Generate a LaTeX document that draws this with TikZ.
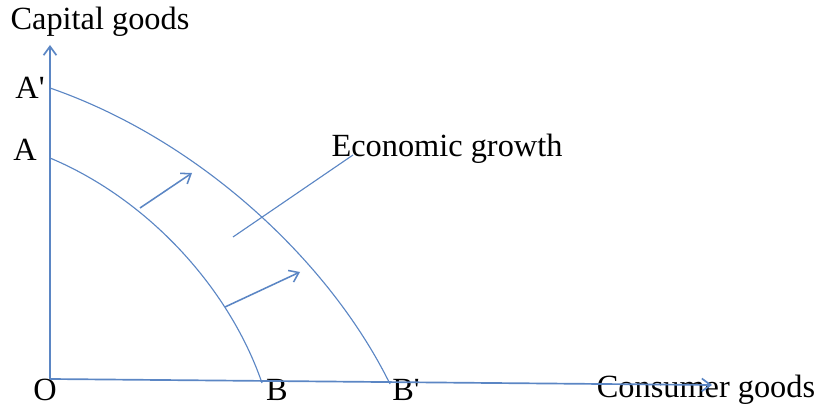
\documentclass[tikz,border=0pt]{standalone}
\usepackage{fontspec}
\setmainfont{Liberation Serif}
\usetikzlibrary{positioning,arrows.meta}
\definecolor{ppfblue}{RGB}{91,134,196}

\begin{document}
\begin{tikzpicture}[
    x=0.025cm, y=-0.025cm,
    lbl/.style={inner sep=0pt, font=\fontsize{23}{27}\selectfont},
    axis/.style={-{Straight Barb[length=2.2mm, width=3.2mm]}, ppfblue, line width=1.2pt},
    ppf/.style={ppfblue, line width=0.8pt},
    shiftarrow/.style={-{Straight Barb[length=2.2mm, width=3.2mm]}, ppfblue, line width=1.1pt}
]
\useasboundingbox (0,0) rectangle (816,405);
\coordinate (O) at (50,379);
\coordinate (ytop) at (50,45);
\coordinate (xend) at (712,385);
\coordinate (A) at (50,158);
\coordinate (A1) at (50,88);
\coordinate (B) at (262,383);
\coordinate (B1) at (390,384);
\coordinate (inA) at (140,208);
\coordinate (inB) at (225,307);
\coordinate (outA) at (192,173);
\coordinate (outB) at (300,272);
\coordinate (lead) at (233,237);
\coordinate (leadtop) at (353,155);

\node[lbl] (ylabel) at (100,22) {Capital goods};
\node[lbl] (xlabel) at (706,390) {Consumer goods};
\node[lbl] (growth) at (447,149) {Economic growth};
\node[lbl] (lA1) at (30,88) {A\textquotesingle};
\node[lbl] (lA) at (25,150) {A};
\node[lbl] (lO) at (45,390) {O};
\node[lbl] (lB) at (277,390) {B};
\node[lbl] (lB1) at (406,390) {B\textquotesingle};

% axes
\draw[axis] (O) -- (ytop);
\draw[axis] (O) -- (xend);
% frontiers
\draw[ppf] (A) .. controls (150,200) and (230,290) .. (B);
\draw[ppf] (A1) .. controls (200,140) and (330,262) .. (B1);
% outward shift
\draw[shiftarrow] (inA) -- (outA);
\draw[shiftarrow] (inB) -- (outB);
\draw[ppf] (lead) -- (leadtop);
\end{tikzpicture}
\end{document}
